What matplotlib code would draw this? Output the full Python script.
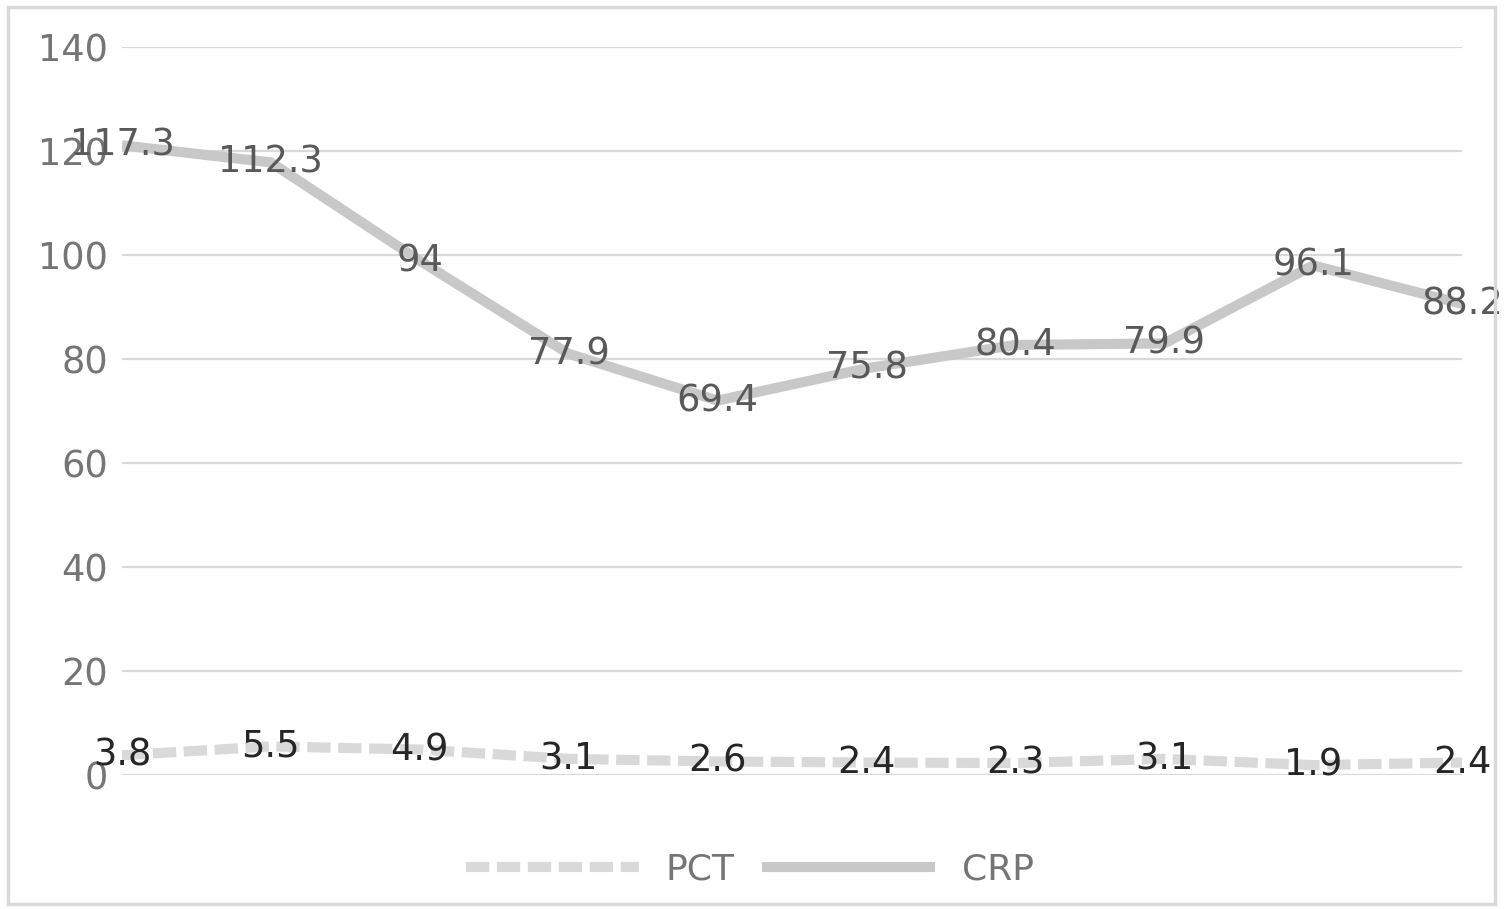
import matplotlib.pyplot as plt
import numpy as np
from matplotlib.patches import Rectangle

# data
categories = list(range(1, 11))
pct = [3.8, 5.5, 4.9, 3.1, 2.6, 2.4, 2.3, 3.1, 1.9, 2.4]
crp = [117.3, 112.3, 94, 77.9, 69.4, 75.8, 80.4, 79.9, 96.1, 88.2]
yticks = [0, 20, 40, 60, 80, 100, 120, 140]

fig = plt.figure(figsize=(15.05, 9.09), dpi=100)
ax = fig.add_axes([122 / 1505, 1 - 775 / 909, (1462 - 122) / 1505, (775 - 47) / 909])

x = np.arange(len(categories))
pct_arr = np.array(pct)
crp_stacked = pct_arr + np.array(crp)  # stacked line chart

# gridlines
for t in yticks:
    ax.axhline(t, color='#d9d9d9', lw=1.6, zorder=0)

ax.plot(x, pct_arr, color='#d9d9d9', lw=7.3, dashes=(2.3, 0.75),
        dash_capstyle='butt', label='PCT', zorder=2)
ax.plot(x, crp_stacked, color='#c8c8c8', lw=7.3, solid_capstyle='butt',
        solid_joinstyle='round', label='CRP', zorder=2)

# data labels
for i in range(len(x)):
    ax.text(x[i], pct_arr[i], f'{pct[i]:g}', ha='center', va='center',
            fontsize=26.5, color='#262626', zorder=3)
    ax.text(x[i], crp_stacked[i], f'{crp[i]:g}', ha='center', va='center',
            fontsize=26.5, color='#595959', zorder=3)

ax.set_xlim(0, len(x) - 1)
ax.set_ylim(0, 140)
ax.set_yticks(yticks)
ax.set_xticks([])
ax.tick_params(axis='y', length=0, pad=10, labelsize=26.5, labelcolor='#757575')
for s in ax.spines.values():
    s.set_visible(False)
ax.patch.set_alpha(0)

fig.legend(loc='center', bbox_to_anchor=(750 / 1505, 1 - 870 / 909), ncol=2, frameon=False,
           fontsize=26, labelcolor='#757575', handlelength=4.8, handletextpad=0.75,
           columnspacing=0.75)

# chart border
fig.patches.append(Rectangle((8 / 1505, 5 / 909), 1487 / 1505, 897 / 909, transform=fig.transFigure,
                             fill=False, edgecolor='#d9d9d9', lw=2.5))

fig.savefig('out.png', dpi=100)
